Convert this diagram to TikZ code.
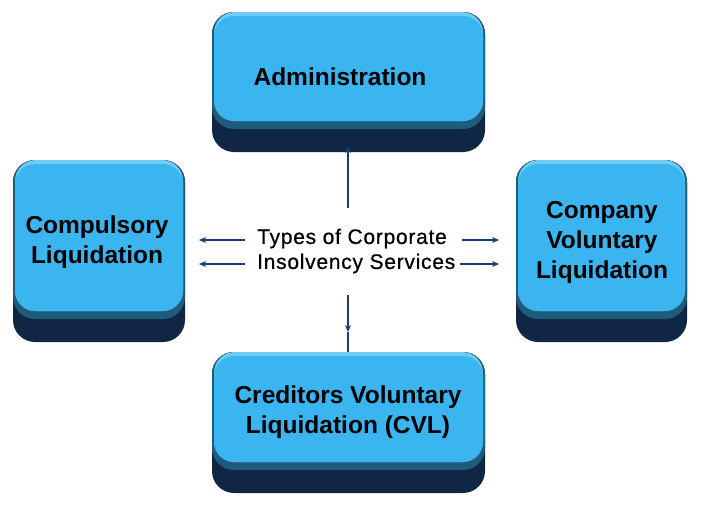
\documentclass[tikz,border=0pt]{standalone}
\usepackage{fontspec}
\setmainfont{Liberation Sans}
\newfontfamily\ctrfont[LetterSpace=3.5,FakeBold=0.6]{Liberation Sans}
\usetikzlibrary{arrows.meta}
\definecolor{navyc}{HTML}{0F2644}
\definecolor{bandc}{HTML}{1F5C7C}
\definecolor{rimc}{HTML}{6ECBF3}
\definecolor{facec}{HTML}{3BB5EF}
\definecolor{arrc}{HTML}{1C3D73}
\newcommand\btnbox[8]{%
  \fill[navyc, rounded corners=22] (#2,#3) rectangle (#4,#5);
  \fill[bandc, rounded corners=22] (#2,#3) rectangle (#4,#5-23);
  \fill[rimc, rounded corners=21] (#2+2,#3) rectangle (#4-2,#5-31);
  \fill[facec, rounded corners=20] (#2+2,#3+4) rectangle (#4-2,#5-31);
  \node[btntext] (#1) at (#6,#7) {#8};
}
\begin{document}
\begin{tikzpicture}[x=1pt,y=-1pt,
  btntext/.style={align=center, font=\fontsize{24.5}{30}\selectfont\bfseries, text=black, inner sep=0pt},
  ctrtext/.style={align=left, font=\ctrfont\fontsize{21}{25}\selectfont, text=black, inner sep=0pt, anchor=west},
  arr/.style={draw=arrc, line width=1.1pt, -{Stealth[length=7pt,width=6pt]}},
  ln/.style={draw=arrc, line width=1.1pt}]
\useasboundingbox (0,0) rectangle (709,504);
\fill[white] (0,0) rectangle (709,504);
\btnbox{admin}{212}{12}{485}{152}{340}{77}{Administration}
\btnbox{comp}{13}{160}{185}{342}{97}{242}{Compulsory\\Liquidation}
\btnbox{cvol}{516}{160}{687}{342}{602}{242}{Company\\Voluntary\\Liquidation}
\btnbox{cvl}{212}{352}{485}{493}{348}{412}{Creditors Voluntary\\Liquidation (CVL)}
\node[ctrtext] (ctr) at (257,251) {Types of Corporate\\Insolvency Services};
\coordinate (upS) at (348,208);
\coordinate (upE) at (348,146);
\coordinate (dnS) at (348,295);
\coordinate (dnM) at (348,332);
\coordinate (dnE) at (348,352);
\coordinate (l1S) at (245,240);
\coordinate (l1E) at (199,240);
\coordinate (l2S) at (245,264);
\coordinate (l2E) at (199,264);
\coordinate (r1S) at (462,240);
\coordinate (r1E) at (499,240);
\coordinate (r2S) at (460,264);
\coordinate (r2E) at (499,264);
\draw[arr] (upS) -- (upE);
\draw[arr] (dnS) -- (dnM);
\draw[ln] (dnM) -- (dnE);
\draw[arr] (l1S) -- (l1E);
\draw[arr] (l2S) -- (l2E);
\draw[arr] (r1S) -- (r1E);
\draw[arr] (r2S) -- (r2E);
\end{tikzpicture}
\end{document}
